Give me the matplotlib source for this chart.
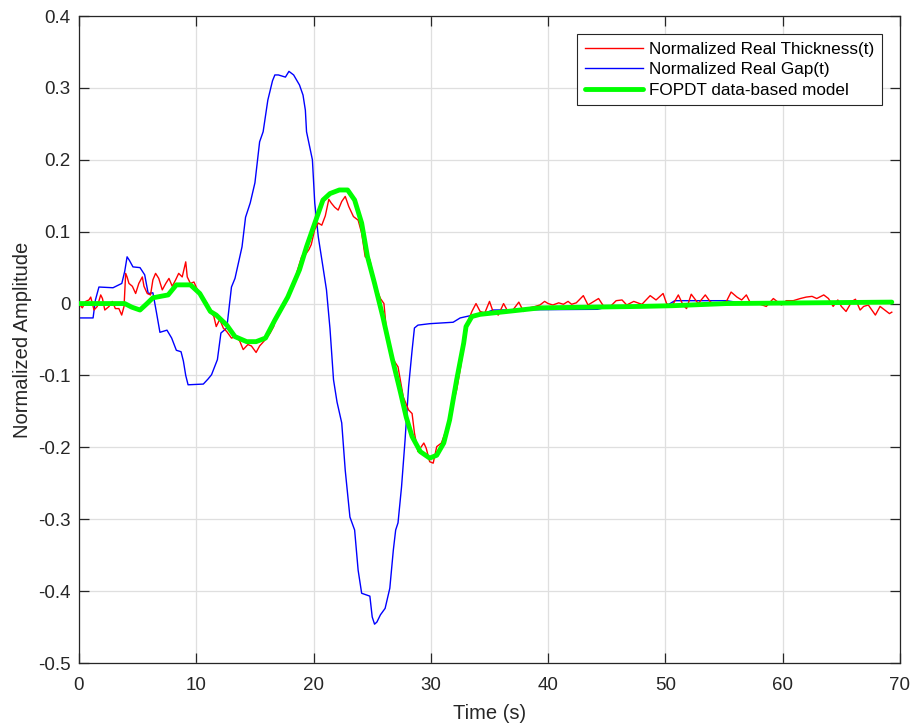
import numpy as np
import matplotlib
matplotlib.use('Agg')
import matplotlib.pyplot as plt
from matplotlib.ticker import FuncFormatter

# Normalized Real Thickness(t)
thick_t = [0.0, 0.28, 0.57, 0.85, 1.0, 1.28, 1.56, 1.85, 2.0, 2.2, 2.56, 2.84, 3.1, 3.4, 3.64, 3.84,
           3.98, 4.1, 4.26, 4.55, 4.83, 5.1, 5.4, 5.54, 5.82, 6.1, 6.3, 6.53, 6.8, 7.1, 7.4, 7.67,
           7.95, 8.24, 8.5, 8.8, 9.1, 9.23, 9.5, 9.8, 10.1, 10.5, 10.9, 11.2, 11.5, 11.7, 12.0,
           12.3, 12.6, 13.0, 13.4, 13.7, 14.0, 14.4, 14.7, 15.1, 15.4, 15.9, 16.3, 16.6, 16.8,
           17.1, 17.6, 18.0, 18.3, 18.6, 19.0, 19.3, 19.6, 19.8, 20.1, 20.4, 20.7, 21.0, 21.3,
           21.5, 21.8, 22.1, 22.4, 22.7, 23.0, 23.4, 23.8, 24.1, 24.4, 24.8, 25.2, 25.7, 26.0,
           26.2, 26.5, 26.8, 27.2, 27.65, 28.1, 28.4, 28.6, 28.9, 29.4, 29.6, 29.9, 30.2, 30.5,
           30.9, 31.3, 31.9, 32.2, 32.5, 32.8, 33.2, 33.5, 33.85, 34.2, 34.6, 35.0, 35.3, 35.75,
           36.2, 36.5, 36.9, 37.5, 37.9, 38.4, 38.9, 39.3, 39.7, 40.0, 40.4, 40.9, 41.3, 41.7,
           42.0, 42.4, 43.0, 43.4, 43.9, 44.3, 44.7, 45.3, 45.8, 46.3, 46.7, 47.3, 47.8, 48.0,
           48.7, 49.2, 49.8, 50.1, 50.5, 51.1, 51.5, 51.8, 52.2, 52.8, 53.4, 53.8, 54.2, 54.6,
           55.2, 55.6, 56.1, 56.5, 56.9, 57.3, 57.9, 58.6, 59.2, 59.9, 60.3, 60.9, 61.5, 62.0,
           62.5, 62.9, 63.5, 63.9, 64.3, 64.7, 65.0, 65.4, 65.9, 66.2, 66.6, 66.9, 67.3, 67.9,
           68.3, 68.7, 69.1, 69.3]
thick_y = [0.0, -0.006, 0.003, 0.005, 0.009, -0.009, -0.004, 0.012, 0.007, -0.009, -0.004, 0.003,
           -0.007, -0.007, -0.016, -0.004, 0.042, 0.037, 0.028, 0.024, 0.014, 0.028, 0.037, 0.024,
           0.014, 0.012, 0.033, 0.042, 0.035, 0.019, 0.028, 0.035, 0.024, 0.033, 0.042, 0.037,
           0.058, 0.037, 0.028, 0.03, 0.019, 0.009, 0.001, -0.011, -0.018, -0.032, -0.022, -0.034,
           -0.039, -0.048, -0.046, -0.052, -0.064, -0.057, -0.059, -0.068, -0.059, -0.05, -0.041,
           -0.032, -0.02, -0.014, 0.0, 0.017, 0.024, 0.045, 0.066, 0.068, 0.075, 0.082, 0.103,
           0.112, 0.109, 0.122, 0.145, 0.140, 0.134, 0.130, 0.142, 0.149, 0.135, 0.121, 0.116,
           0.098, 0.065, 0.061, 0.028, 0.007, 0.0, -0.035, -0.065, -0.078, -0.088, -0.13, -0.148,
           -0.153, -0.18, -0.206, -0.194, -0.201, -0.22, -0.222, -0.199, -0.194, -0.176, -0.139,
           -0.12, -0.092, -0.06, -0.023, -0.011, 0.0, -0.011, -0.013, 0.003, -0.011, -0.016, 0.0,
           -0.009, -0.011, 0.002, -0.011, -0.006, -0.004, -0.002, 0.003, 0.0, -0.002, 0.001,
           -0.001, 0.003, -0.001, 0.001, 0.011, -0.002, 0.003, 0.007, -0.003, -0.004, 0.004, 0.005,
           -0.002, 0.003, 0.0, -0.001, 0.011, 0.005, 0.014, 0.0, -0.005, 0.012, -0.002, -0.007,
           0.013, 0.0, 0.012, 0.003, -0.002, 0.0, 0.003, 0.016, 0.009, 0.005, 0.012, -0.001, 0.0,
           -0.004, 0.007, -0.002, 0.004, 0.004, 0.007, 0.009, 0.010, 0.007, 0.012, 0.007, -0.004,
           0.005, -0.004, -0.011, 0.003, 0.006, -0.009, -0.004, -0.002, -0.016, -0.004, -0.009,
           -0.014, -0.012]

# Normalized Real Gap(t)
gap_t = [0.0, 1.2, 1.4, 1.7, 2.9, 3.65, 3.9, 4.1, 4.3, 4.6, 5.2, 5.6, 5.9, 6.3, 6.6, 6.9, 7.5,
         7.9, 8.3, 8.7, 8.9, 9.1, 9.3, 10.6, 11.0, 11.3, 11.8, 12.1, 12.6, 13.0, 13.3, 13.9, 14.2,
         14.6, 15.0, 15.4, 15.7, 16.1, 16.5, 16.7, 17.0, 17.6, 17.9, 18.3, 18.8, 19.1, 19.3, 19.4,
         19.9, 20.1, 20.4, 20.8, 21.1, 21.4, 21.7, 22.0, 22.4, 22.7, 23.1, 23.5, 23.8, 24.1, 24.8,
         25.0, 25.2, 25.4, 25.7, 26.1, 26.5, 26.8, 27.0, 27.2, 27.5, 27.8, 28.1, 28.4, 28.6, 28.9,
         29.9, 31.9, 32.5, 33.6, 34.8, 35.3, 44.2, 45.0, 50.0, 50.8, 55.2, 56.0, 69.0]
gap_y = [-0.020, -0.020, 0.005, 0.023, 0.022, 0.028, 0.045, 0.065, 0.060, 0.051, 0.050, 0.040,
         0.014, 0.015, -0.012, -0.040, -0.037, -0.048, -0.065, -0.067, -0.080, -0.100, -0.113,
         -0.112, -0.105, -0.099, -0.078, -0.041, -0.034, 0.023, 0.035, 0.079, 0.120, 0.140, 0.168,
         0.225, 0.239, 0.283, 0.310, 0.318, 0.318, 0.315, 0.323, 0.318, 0.304, 0.290, 0.269,
         0.239, 0.200, 0.140, 0.093, 0.051, 0.019, -0.035, -0.106, -0.137, -0.166, -0.232, -0.297,
         -0.315, -0.371, -0.403, -0.407, -0.436, -0.446, -0.443, -0.433, -0.424, -0.396, -0.343,
         -0.315, -0.305, -0.255, -0.190, -0.116, -0.065, -0.034, -0.030, -0.028, -0.026, -0.020,
         -0.016, -0.012, -0.009, -0.008, -0.005, -0.004, 0.004, 0.004, 0.002, 0.003]

# FOPDT data-based model
model_t = [0.0, 3.9, 4.5, 5.2, 5.8, 6.3, 7.6, 8.3, 9.5, 10.3, 11.2, 11.7, 12.6, 13.3, 14.3, 15.1,
           15.9, 16.7, 17.8, 18.8, 19.4, 20.0, 20.8, 21.4, 22.2, 22.9, 23.5, 24.1, 24.6, 25.2,
           25.9, 26.7, 27.4, 27.9, 28.4, 29.1, 29.9, 30.5, 31.1, 31.6, 32.2, 32.8, 33.0, 33.5,
           34.2, 36.5, 39.3, 47.8, 50.6, 55.2, 69.3]
model_y = [0.0, 0.0, -0.005, -0.009, 0.0, 0.008, 0.012, 0.026, 0.026, 0.014, -0.011, -0.016,
           -0.030, -0.046, -0.053, -0.053, -0.048, -0.023, 0.009, 0.047, 0.079, 0.107, 0.144,
           0.153, 0.158, 0.158, 0.144, 0.112, 0.065, 0.028, -0.018, -0.076, -0.123, -0.158,
           -0.185, -0.206, -0.215, -0.211, -0.194, -0.162, -0.106, -0.055, -0.032, -0.018,
           -0.015, -0.011, -0.006, -0.004, -0.003, 0.0, 0.002]

x_ticks = np.arange(0, 71, 10)
y_ticks = np.arange(-0.5, 0.41, 0.1)

plt.rcParams['font.family'] = ['Liberation Sans', 'DejaVu Sans']
plt.rcParams['axes.unicode_minus'] = False


def fmt_tick(v, pos):
    v = round(v, 2) + 0.0
    return '0' if v == 0 else '%g' % v


fig = plt.figure(figsize=(9.12, 7.24), dpi=100)
ax = fig.add_axes([79 / 912, 61 / 724, 821 / 912, 647 / 724])

ax.plot(thick_t, thick_y, color='#ff0000', lw=1.0, label='Normalized Real Thickness(t)', zorder=3)
ax.plot(gap_t, gap_y, color='#0000ff', lw=1.0, label='Normalized Real Gap(t)', zorder=2)
ax.plot(model_t, model_y, color='#00ff00', lw=3.5, label='FOPDT data-based model',
        solid_capstyle='round', solid_joinstyle='round', zorder=4)

ax.set_xlim(0, 70)
ax.set_ylim(-0.5, 0.4)
ax.set_xticks(x_ticks)
ax.set_yticks(y_ticks)
ax.yaxis.set_major_formatter(FuncFormatter(fmt_tick))
ax.grid(True, color='#dfdfdf', lw=0.9)
ax.set_axisbelow(True)

for side in ax.spines.values():
    side.set_color('#262626')
    side.set_linewidth(0.9)
ax.tick_params(direction='in', length=7, width=0.9, color='#262626', top=True, right=True,
               labelsize=13.5, labelcolor='#262626')
ax.tick_params(axis='x', pad=10)
ax.tick_params(axis='y', pad=6)

ax.set_xlabel('Time (s)', fontsize=14.5, color='#262626', labelpad=7)
ax.set_ylabel('Normalized Amplitude', fontsize=14.5, color='#262626', labelpad=4)

leg = ax.legend(loc='upper right', bbox_to_anchor=(0.978, 0.972), borderaxespad=0,
                fancybox=False, framealpha=1, edgecolor='#262626', fontsize=12.3,
                handlelength=3.4, handletextpad=0.35, labelspacing=0.32, borderpad=0.45)
leg.get_frame().set_linewidth(0.8)

fig.savefig('out.png', dpi=100)
